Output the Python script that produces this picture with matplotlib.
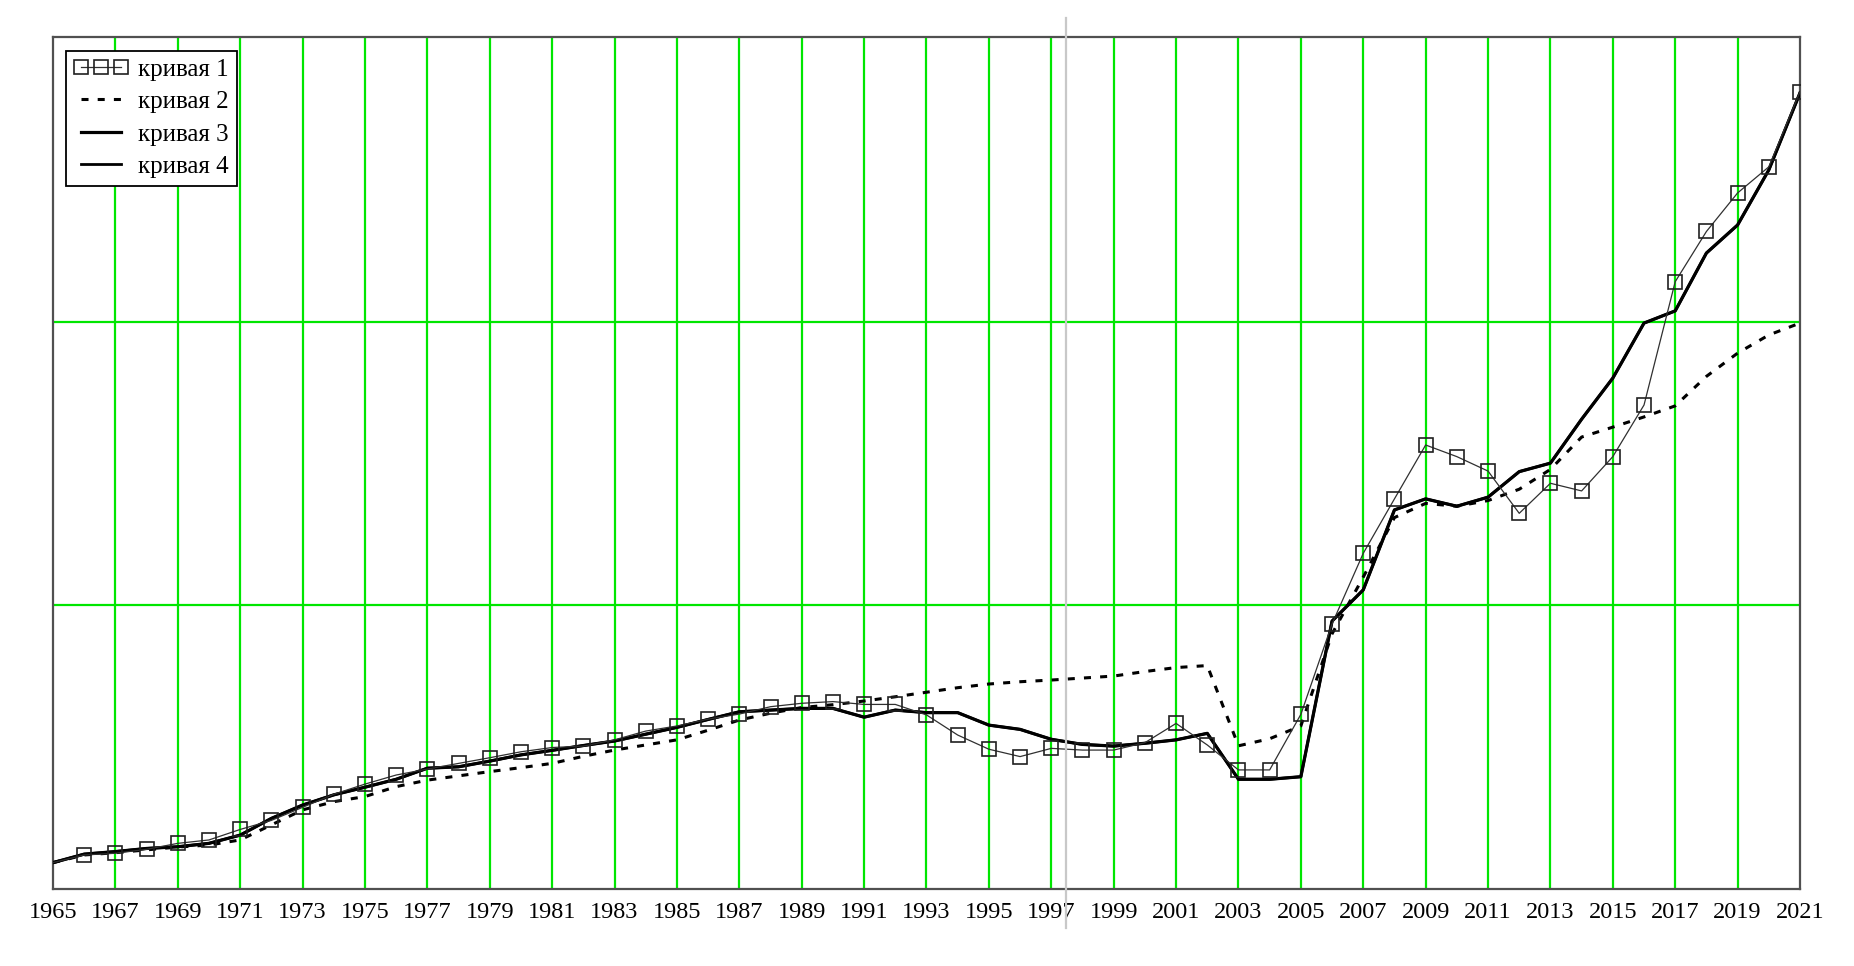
import matplotlib
matplotlib.use("Agg")
import matplotlib.pyplot as plt
import matplotlib.transforms as mtransforms

years = list(range(1965, 2022))

curve1 = [9.3, 12.0, 12.6, 14.0, 16.1, 17.3, 21.0, 24.2, 28.8, 33.4,
          37.0, 40.2, 42.3, 44.3, 46.3, 48.4, 49.9, 50.4, 52.6, 55.7,
          57.5, 59.9, 61.7, 64.3, 65.5, 66.1, 65.1, 65.1, 61.4, 54.3,
          49.3, 46.7, 49.6, 49.0, 49.0, 51.6, 58.4, 50.8, 42.0, 42.0,
          61.6, 93.5, 118.4, 137.6, 156.6, 152.5, 147.4, 132.5, 143.1, 140.4,
          152.5, 170.7, 214.2, 231.9, 245.5, 254.7, 281.2]

curve2 = [9.3, 12.0, 12.8, 13.8, 14.8, 15.5, 17.3, 22.6, 27.9, 30.8,
          32.6, 36.1, 38.4, 39.9, 41.4, 42.8, 44.3, 46.8, 49.0, 50.8,
          52.6, 56.0, 59.6, 62.0, 64.0, 65.0, 66.3, 67.8, 69.4, 71.0,
          72.3, 73.1, 73.7, 74.4, 75.1, 76.7, 78.1, 78.8, 50.5, 53.0,
          57.5, 90.0, 110.0, 131.0, 136.0, 135.0, 137.0, 141.0, 148.0, 159.4,
          162.9, 166.5, 170.4, 180.8, 189.0, 195.4, 199.6]

curve3 = [9.3, 12.3, 13.2, 14.3, 14.9, 16.1, 19.0, 24.9, 29.6, 33.2,
          35.9, 38.7, 42.6, 43.1, 45.1, 47.3, 48.9, 50.6, 52.2, 54.6,
          57.0, 59.8, 62.5, 63.1, 63.7, 63.7, 60.6, 63.1, 62.2, 62.2,
          57.8, 56.3, 52.8, 51.0, 50.4, 51.4, 52.6, 54.9, 38.7, 38.7,
          39.6, 94.5, 105.5, 133.7, 137.6, 135.0, 138.2, 147.2, 150.2, 165.7,
          180.2, 199.6, 203.9, 224.3, 234.2, 253.6, 280.8]

curve4 = [9.3, 12.3, 13.2, 14.3, 14.9, 16.1, 19.0, 24.9, 29.6, 33.2,
          35.9, 38.7, 42.6, 43.1, 45.1, 47.3, 48.9, 50.6, 52.2, 54.6,
          57.0, 59.8, 62.5, 63.1, 63.7, 63.7, 60.6, 63.1, 62.2, 62.2,
          57.8, 56.3, 52.8, 51.0, 50.4, 51.4, 52.6, 54.9, 38.7, 38.7,
          39.6, 94.5, 105.5, 133.7, 137.6, 135.0, 138.2, 147.2, 150.2, 165.7,
          180.2, 199.6, 203.9, 224.3, 234.2, 253.6, 280.8]

labels = ["кривая 1", "кривая 2", "кривая 3", "кривая 4"]
xtick_years = list(range(1965, 2022, 2))
vgrid_years = list(range(1967, 2021, 2))
hgrid_levels = [100, 200]
cursor_year = 1997.47

plt.rcParams['font.family'] = ['Liberation Serif', 'DejaVu Serif']

fig = plt.figure(figsize=(18.54, 9.66), dpi=100)
ax = fig.add_axes([53 / 1854, 77 / 966, 1747 / 1854, 852 / 966])

green = '#00e600'
for xv in vgrid_years:
    ax.axvline(xv, color=green, lw=1.6, zorder=1)
for yv in hgrid_levels:
    ax.axhline(yv, color=green, lw=1.6, zorder=1)

ax.plot(years, curve1, color='#303030', lw=0.9, marker='s', markersize=9.5,
        markevery=list(range(1, len(years))),
        markerfacecolor='none', markeredgecolor='#202020', markeredgewidth=1.2,
        label=labels[0], zorder=4)
ax.plot(years, curve2, color='black', lw=2.2, dashes=(2.3, 3.0),
        label=labels[1], zorder=3)
ax.plot(years, curve3, color='black', lw=2.3, label=labels[2], zorder=3)
ax.plot(years, curve4, color='black', lw=2.0, label=labels[3], zorder=3)

trans = mtransforms.blended_transform_factory(ax.transData, ax.transAxes)
ax.plot([cursor_year, cursor_year], [-0.046, 1.022], color='#c8c8c8', lw=1.6,
        transform=trans, clip_on=False, zorder=5)

ax.set_xlim(1965, 2021)
ax.set_ylim(0, 300.5)
ax.set_xticks(xtick_years)
ax.set_xticklabels([str(y) for y in xtick_years])
ax.set_yticks([])
ax.tick_params(axis='x', length=0, pad=9, labelsize=17.5)
for sp in ax.spines.values():
    sp.set_color('#505050')
    sp.set_linewidth(1.6)

leg = ax.legend(loc='upper left', bbox_to_anchor=(0.0074, 0.984),
                borderaxespad=0, numpoints=3, fancybox=False, framealpha=1,
                edgecolor='black', fontsize=18, handlelength=2.2,
                handletextpad=0.4, labelspacing=0.4, borderpad=0.3)
leg.get_frame().set_linewidth(1.3)

fig.savefig('out.png', dpi=100)
